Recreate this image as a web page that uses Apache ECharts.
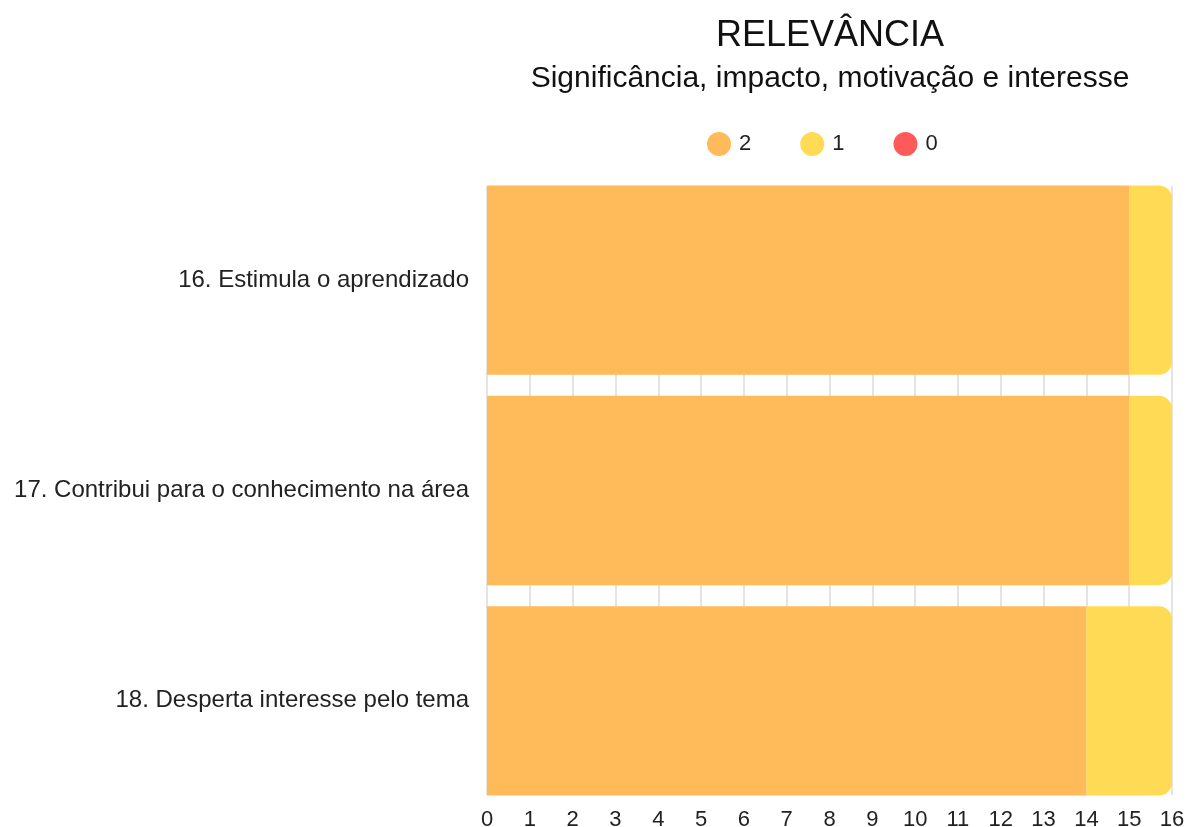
<!DOCTYPE html>
<html>
<head>
<meta charset="utf-8">
<script src="https://cdn.jsdelivr.net/npm/echarts@6/dist/echarts.min.js"></script>
<style>
  html, body { margin: 0; padding: 0; background: #fff; }
  #chart { width: 1189px; height: 827px; }
</style>
</head>
<body>
<div id="chart"></div>
<script>
const categories = [
  '16. Estimula o aprendizado',
  '17. Contribui para o conhecimento na área',
  '18. Desperta interesse pelo tema',
];
const score2 = [15, 15, 14];
const score1 = [1, 1, 2];
const score0 = [0, 0, 0];

const chart = echarts.init(document.getElementById('chart'));

const font = '"Liberation Sans", Arial, sans-serif';

const option = {
  textStyle: { fontFamily: font },
  color: ['#ffba5a', '#ffdb55', '#ff5a5a'],
  title: {
    text: 'RELEVÂNCIA',
    subtext: 'Significância, impacto, motivação e interesse',
    left: 825,
    top: 13,
    textAlign: 'center',
    itemGap: 10,
    textStyle: { fontFamily: font, fontSize: 36, fontWeight: 'normal', color: '#111' },
    subtextStyle: { fontFamily: font, fontSize: 30, color: '#111' },
  },
  legend: {
    data: ['2', '1', '0'],
    left: 702,
    top: 127,
    icon: 'circle',
    itemWidth: 24,
    itemHeight: 24,
    itemGap: 49,
    textStyle: { fontFamily: font, fontSize: 22, color: '#222', padding: [0, 0, 0, 3] },
  },
  // grid 0 holds the bars, grid 1 only draws the vertical lines between them
  grid: [
    { left: 487, right: 17, top: 175, bottom: 21, outerBoundsMode: 'none' },
    { left: 487, right: 17, top: 186, bottom: 32, outerBoundsMode: 'none' },
  ],
  xAxis: [
    {
      type: 'value',
      gridIndex: 0,
      min: 0,
      max: 16,
      interval: 1,
      axisLine: { show: false },
      axisTick: { show: false },
      axisLabel: { fontFamily: font, fontSize: 22, color: '#222', margin: 3 },
      splitLine: { show: false },
    },
    {
      type: 'value',
      gridIndex: 1,
      min: 0,
      max: 16,
      interval: 1,
      axisLine: { show: false },
      axisTick: { show: false },
      axisLabel: { show: false },
      splitLine: { show: true, lineStyle: { color: '#e4e4e4', width: 2 } },
    },
  ],
  yAxis: [
    {
      type: 'category',
      gridIndex: 0,
      data: categories,
      inverse: true,
      axisLine: { show: false },
      axisTick: { show: false },
      axisLabel: { fontFamily: font, fontSize: 24, color: '#222', margin: 18 },
    },
    {
      type: 'value',
      gridIndex: 1,
      min: 0,
      max: 1,
      show: false,
    },
  ],
  series: [
    {
      name: '2',
      type: 'bar',
      stack: 'total',
      barCategoryGap: '10%',
      data: score2,
    },
    {
      name: '1',
      type: 'bar',
      stack: 'total',
      itemStyle: { borderRadius: [0, 13, 13, 0] },
      data: score1,
    },
    {
      name: '0',
      type: 'bar',
      stack: 'total',
      itemStyle: { borderRadius: [0, 13, 13, 0] },
      data: score0,
    },
  ],
};

chart.setOption(option);
</script>
</body>
</html>
